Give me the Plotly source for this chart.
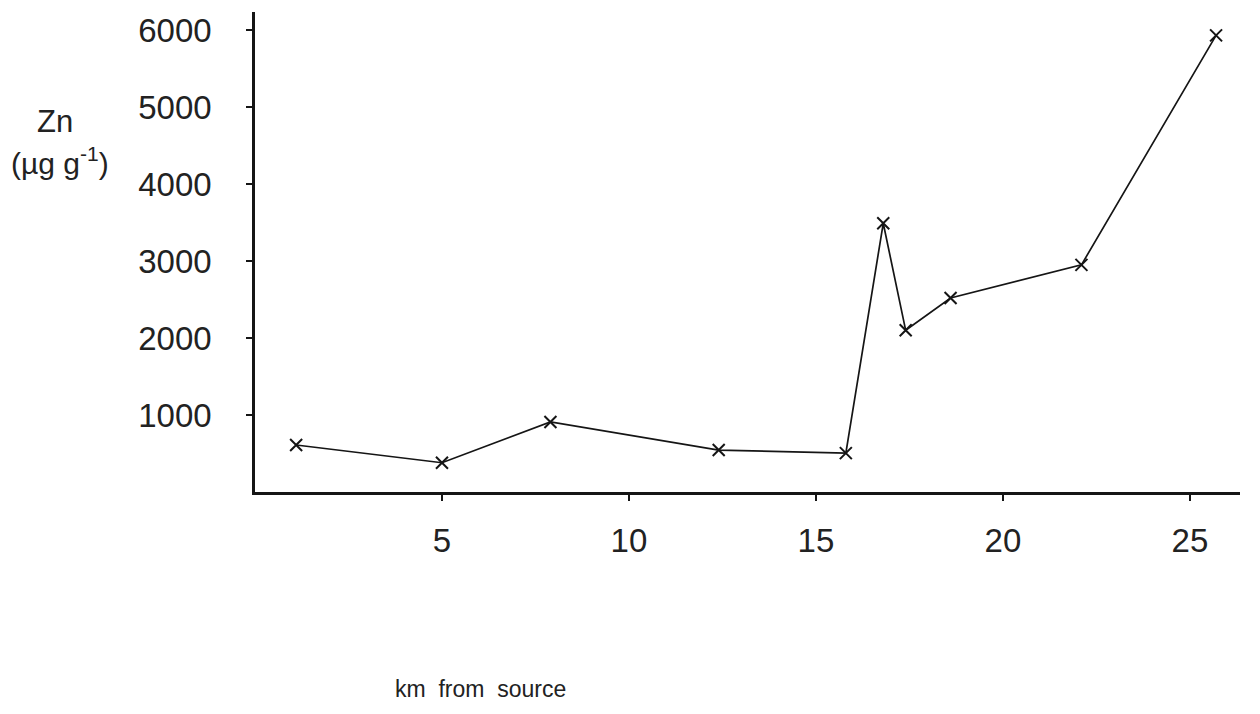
import plotly.graph_objects as go

# Zinc concentration in sediment along the river, by distance downstream
km_from_source = [1.1, 5.0, 7.9, 12.4, 15.8, 16.8, 17.4, 18.6, 22.1, 25.7]
zn_ug_per_g = [610, 380, 910, 545, 505, 3490, 2100, 2520, 2950, 5930]

x_ticks = [5, 10, 15, 20, 25]
y_ticks = [1000, 2000, 3000, 4000, 5000, 6000]

font_family = "Liberation Sans, Arial, sans-serif"
ink = "#151515"

fig = go.Figure()
fig.add_trace(go.Scatter(
    x=km_from_source,
    y=zn_ug_per_g,
    mode="lines+markers",
    line=dict(color=ink, width=1.7),
    marker=dict(symbol="x-thin", size=12, line=dict(color=ink, width=2)),
    showlegend=False,
))

fig.update_layout(
    width=1260,
    height=714,
    margin=dict(l=255, r=20, t=12, b=222),
    paper_bgcolor="white",
    plot_bgcolor="white",
    font=dict(family=font_family, color=ink),
)

fig.update_xaxes(
    range=[0, 26.34],
    tickvals=x_ticks,
    ticktext=[str(v) for v in x_ticks],
    ticks="outside",
    ticklen=6,
    tickwidth=2,
    tickcolor=ink,
    ticklabelstandoff=12,
    tickfont=dict(size=33, color="#222222"),
    showline=True,
    linewidth=2.5,
    linecolor=ink,
    showgrid=False,
    zeroline=False,
)

fig.update_yaxes(
    range=[0, 6234],
    tickvals=y_ticks,
    ticktext=[str(v) for v in y_ticks],
    ticks="outside",
    ticklen=6,
    tickwidth=2,
    tickcolor=ink,
    ticklabelstandoff=28,
    tickfont=dict(size=33, color="#222222"),
    showline=True,
    linewidth=2.5,
    linecolor=ink,
    showgrid=False,
    zeroline=False,
)

# Axis titles placed as free text, as in the hand-lettered figure
fig.add_annotation(
    text="Zn", xref="paper", yref="paper",
    x=-0.203, y=0.772, xanchor="center", yanchor="middle",
    showarrow=False, font=dict(size=31, color="#222222", family=font_family),
)
fig.add_annotation(
    text="(µg g<sup>-1</sup>)", xref="paper", yref="paper",
    x=-0.198, y=0.69, xanchor="center", yanchor="middle",
    showarrow=False, font=dict(size=30, color="#222222", family=font_family),
)
fig.add_annotation(
    text="km  from  source", xref="paper", yref="paper",
    x=0.229, y=-0.41, xanchor="center", yanchor="middle",
    showarrow=False, font=dict(size=23, color="#222222", family=font_family),
)

fig.write_html("out.html")
